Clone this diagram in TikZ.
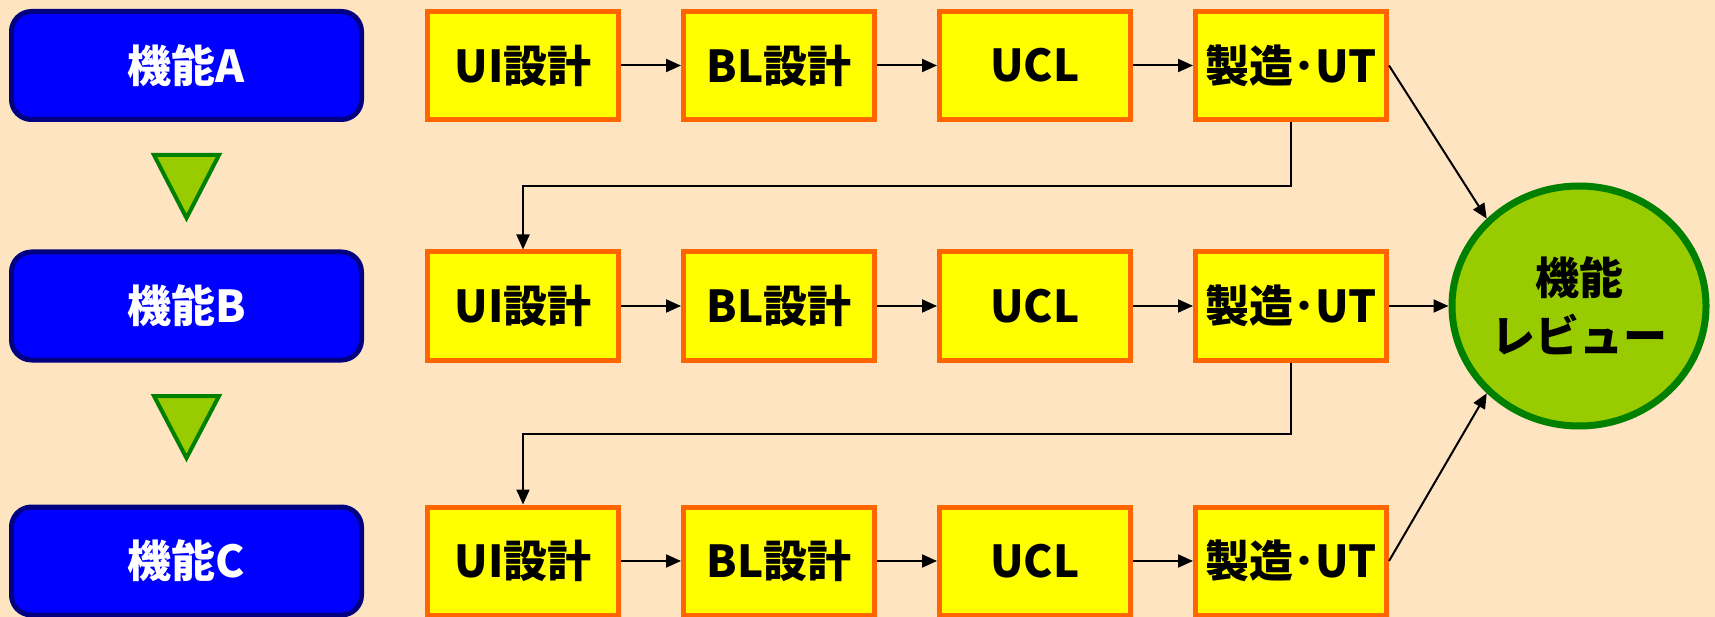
\documentclass[tikz,border=0pt]{standalone}
\usepackage{fontspec}
\setmainfont{Noto Sans CJK JP}
\usetikzlibrary{arrows.meta,shapes.geometric}
\definecolor{bgpeach}{HTML}{FFE4C2}
\definecolor{featblue}{HTML}{0000FF}
\definecolor{featnavy}{HTML}{000080}
\definecolor{stepyellow}{HTML}{FFFF00}
\definecolor{steporange}{HTML}{FF6600}
\definecolor{leafgreen}{HTML}{99CC00}
\definecolor{darkgreen}{HTML}{008000}
\begin{document}
\begin{tikzpicture}[x=1pt,y=-1pt,
  txt/.style={font=\fontsize{44}{58}\selectfont\bfseries},
  featbox/.style={txt, text=white, draw=featnavy, fill=featblue, line width=5pt,
    rounded corners=20pt, minimum width=350pt, minimum height=108pt, inner sep=0pt},
  stepbox/.style={txt, draw=steporange, fill=stepyellow, line width=5pt,
    minimum width=191pt, minimum height=108pt, inner sep=0pt},
  review/.style={txt, ellipse, draw=darkgreen, fill=leafgreen, line width=7pt,
    minimum width=254pt, minimum height=240pt, inner sep=0pt, align=center},
  flow/.style={line width=2pt, -{Triangle[length=15pt,width=13pt]}},
  marker/.style={draw=darkgreen, fill=leafgreen, line width=4pt, line join=miter}
]
% background and page size
\fill[bgpeach] (0,0) rectangle (1715,617);
\useasboundingbox (0,0) rectangle (1715,617);

% features
\node[featbox] (fa) at (186.5,65.5) {機能A};
\node[featbox] (fb) at (186.5,306) {機能B};
\node[featbox] (fc) at (186.5,561) {機能C};

% order markers between features
\draw[marker] (154,155) -- (219,155) -- (186.5,218) -- cycle;
\draw[marker] (154,396) -- (219,396) -- (186.5,458) -- cycle;

% process steps, one row per feature
\foreach \r/\y in {a/65.5, b/306, c/561} {
  \node[stepbox] (\r1) at (523,\y) {UI設計};
  \node[stepbox] (\r2) at (779,\y) {BL設計};
  \node[stepbox] (\r3) at (1035,\y) {UCL};
  \node[stepbox] (\r4) at (1291,\y) {製造･UT};
  \draw[flow] (\r1) -- (\r2);
  \draw[flow] (\r2) -- (\r3);
  \draw[flow] (\r3) -- (\r4);
}

% review
\node[review] (rev) at (1579,306) {機能\\レビュー};

% hand-over between rows
\draw[flow] (a4.south) -- (a4.south |- 0,186) -| (b1.north);
\draw[flow] (b4.south) -- (b4.south |- 0,434) -| (c1.north);

% into the review
\draw[flow] (a4.east) -- (rev.north west);
\draw[flow] (b4.east) -- (rev.west);
\draw[flow] (c4.east) -- (rev.south west);
\end{tikzpicture}
\end{document}
